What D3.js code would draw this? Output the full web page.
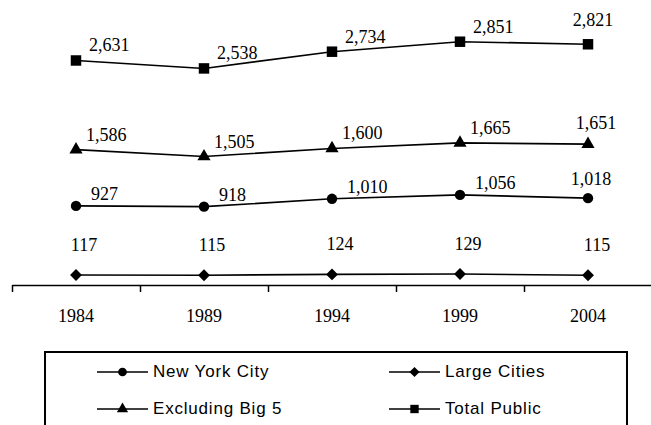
<!doctype html>
<html lang="en">
<head>
<meta charset="UTF-8">
<title>Enrollment, 1984-2004</title>
<script src="https://d3js.org/d3.v7.min.js"></script>
<style>
body { margin: 0; background: #fff; }
svg { display: block; }
.axis path, .axis line { stroke: #000; stroke-width: 1.5; }
.label { font-family: "Liberation Serif", "Times New Roman", serif; font-size: 18px; fill: #000; }
.legend text { font-family: "Liberation Sans", Arial, sans-serif; font-size: 17px; letter-spacing: 0.8px; fill: #000; }
</style>
</head>
<body>
<div id="plot"></div>
<script>

var width = 651;
var height = 425;

// data
var years = ["1984", "1989", "1994", "1999", "2004"];
var totalPublic = [2631, 2538, 2734, 2851, 2821];
var excludingBig5 = [1586, 1505, 1600, 1665, 1651];
var newYorkCity = [927, 918, 1010, 1056, 1018];
var largeCities = [117, 115, 124, 129, 115];

var series = [
	{ name: "Total Public", values: totalPublic, symbol: d3.symbolSquare, size: 110, legendSize: 70, dx: 13, dy: -9, anchor: "start", lastDx: 5, lastDy: -18 },
	{ name: "Excluding Big 5", values: excludingBig5, symbol: d3.symbolTriangle, size: 75, legendSize: 55, dx: 10, dy: -9, anchor: "start", lastDx: 8, lastDy: -15 },
	{ name: "New York City", values: newYorkCity, symbol: d3.symbolCircle, size: 85, legendSize: 60, dx: 15, dy: -6, anchor: "start", lastDx: 3, lastDy: -13 },
	{ name: "Large Cities", values: largeCities, symbol: d3.symbolDiamond2, size: 90, legendSize: 65, dx: 8, dy: -24, anchor: "middle", lastDx: 9, lastDy: -24 }
];

var legendOrder = ["New York City", "Large Cities", "Excluding Big 5", "Total Public"];

var svg = d3.select("#plot").append("svg")
	.attr("width", width)
	.attr("height", height);

var xScale = d3.scaleBand().domain(years).range([12, 652]);
var yScale = d3.scaleLinear().domain([0, 3000]).range([285, 29]);

function cx(i) { return xScale(years[i]) + xScale.bandwidth() / 2; }

// axis with ticks on the band edges
var edges = d3.scaleLinear().domain([0, years.length]).range(xScale.range());
svg.append("g")
	.attr("class", "axis")
	.attr("transform", "translate(0," + yScale(0) + ")")
	.call(d3.axisBottom(edges).ticks(years.length).tickSize(7).tickSizeOuter(0).tickFormat(""));

svg.append("g").selectAll("text")
	.data(years)
	.enter().append("text")
	.attr("class", "label")
	.attr("x", function (d, i) { return cx(i); })
	.attr("y", 322)
	.attr("text-anchor", "middle")
	.text(function (d) { return d; });

var line = d3.line()
	.x(function (d, i) { return cx(i); })
	.y(function (d) { return yScale(d); });

var fmt = d3.format(",");

series.forEach(function (s) {
	var g = svg.append("g");
	g.append("path")
		.attr("d", line(s.values))
		.style("fill", "none")
		.style("stroke", "#000")
		.style("stroke-width", 1.6);

	g.selectAll("path.mark")
		.data(s.values)
		.enter().append("path")
		.attr("class", "mark")
		.attr("d", d3.symbol().type(s.symbol).size(s.size))
		.attr("transform", function (d, i) { return "translate(" + cx(i) + "," + yScale(d) + ")"; })
		.style("fill", "#000");

	var last = s.values.length - 1;
	g.selectAll("text")
		.data(s.values)
		.enter().append("text")
		.attr("class", "label")
		.attr("x", function (d, i) { return cx(i) + (i === last ? s.lastDx : s.dx); })
		.attr("y", function (d, i) { return yScale(d) + (i === last ? s.lastDy : s.dy); })
		.attr("text-anchor", function (d, i) { return i === last ? "middle" : s.anchor; })
		.text(function (d) { return fmt(d); });
});

// legend
var legend = svg.append("g").attr("class", "legend");
legend.append("rect")
	.attr("x", 45)
	.attr("y", 352)
	.attr("width", 582)
	.attr("height", 100)
	.style("fill", "none")
	.style("stroke", "#000")
	.style("stroke-width", 2);

legendOrder.forEach(function (name, k) {
	var s = series.filter(function (d) { return d.name === name; })[0];
	var x0 = k % 2 === 0 ? 97 : 389;
	var y0 = k < 2 ? 372 : 409;
	var item = legend.append("g").attr("transform", "translate(" + x0 + "," + y0 + ")");
	item.append("line")
		.attr("x1", 0).attr("x2", 51)
		.attr("y1", 0).attr("y2", 0)
		.style("stroke", "#000")
		.style("stroke-width", 1.6);
	item.append("path")
		.attr("d", d3.symbol().type(s.symbol).size(s.legendSize))
		.attr("transform", "translate(25.5,0)")
		.style("fill", "#000");
	item.append("text")
		.attr("x", 56)
		.attr("y", 5)
		.text(name);
});

</script>
</body>
</html>
